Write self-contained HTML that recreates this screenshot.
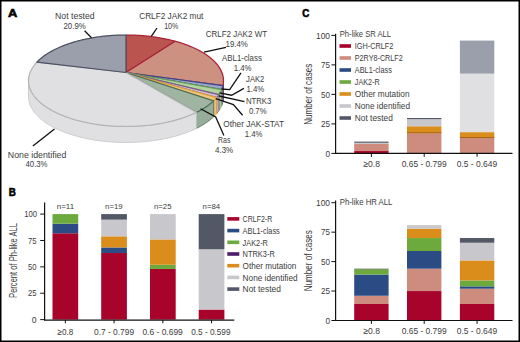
<!DOCTYPE html>
<html><head><meta charset="utf-8"><style>
html,body{margin:0;padding:0;background:#fff;}
body{width:520px;height:342px;overflow:hidden;position:relative;}
svg{position:absolute;left:0;top:0;display:block;}
text{font-family:"Liberation Sans", sans-serif;stroke:none;}
</style></head><body>
<svg width="520" height="342" viewBox="0 0 520 342">
<rect x="0" y="0" width="520" height="342" fill="#fff"/>
<polygon points="223.50,81.08 223.46,81.98 223.39,82.88 223.28,83.78 223.14,84.68 222.95,85.58 222.95,101.58 223.14,100.68 223.28,99.78 223.39,98.88 223.46,97.98 223.50,97.08" fill="#c28577" stroke="#a8243a" stroke-width="0.8" stroke-linejoin="round"/>
<polygon points="222.95,85.58 222.75,86.41 222.51,87.23 222.25,88.06 221.95,88.88 221.61,89.70 221.61,105.70 221.95,104.88 222.25,104.06 222.51,103.23 222.75,102.41 222.95,101.58" fill="#8f9bbf" stroke="#3a4488" stroke-width="0.8" stroke-linejoin="round"/>
<polygon points="221.61,89.70 221.24,90.53 220.84,91.35 220.41,92.17 219.94,92.99 219.44,93.81 218.90,94.63 218.90,110.63 219.44,109.81 219.94,108.99 220.41,108.17 220.84,107.35 221.24,106.53 221.61,105.70" fill="#a8c898" stroke="#6aa052" stroke-width="0.8" stroke-linejoin="round"/>
<polygon points="218.90,94.63 218.19,95.63 217.43,96.63 216.62,97.63 216.62,113.63 217.43,112.63 218.19,111.63 218.90,110.63" fill="#c2b0c8" stroke="#7d5a8c" stroke-width="0.8" stroke-linejoin="round"/>
<polygon points="216.62,97.63 215.92,98.43 215.19,99.23 214.42,100.03 213.62,100.81 213.62,116.81 214.42,116.03 215.19,115.23 215.92,114.43 216.62,113.63" fill="#ebc070" stroke="#e0a03a" stroke-width="0.8" stroke-linejoin="round"/>
<polygon points="213.62,100.81 212.74,101.64 211.82,102.46 210.86,103.27 209.86,104.08 208.83,104.88 207.76,105.67 206.65,106.46 205.50,107.23 204.32,108.00 203.10,108.75 201.84,109.50 200.55,110.23 199.22,110.96 197.86,111.67 196.46,112.37 196.46,128.37 197.86,127.67 199.22,126.96 200.55,126.23 201.84,125.50 203.10,124.75 204.32,124.00 205.50,123.23 206.65,122.46 207.76,121.67 208.83,120.88 209.86,120.08 210.86,119.27 211.82,118.46 212.74,117.64 213.62,116.81" fill="#96ad99" stroke="#4d6e55" stroke-width="0.8" stroke-linejoin="round"/>
<polygon points="196.46,112.37 195.09,113.03 193.69,113.67 192.27,114.30 190.81,114.92 189.33,115.53 187.81,116.13 186.27,116.71 184.69,117.28 183.10,117.83 181.47,118.37 179.82,118.89 178.14,119.40 176.44,119.90 174.71,120.38 172.96,120.84 171.19,121.29 169.39,121.71 167.58,122.13 165.74,122.52 163.88,122.90 162.01,123.26 160.12,123.60 158.21,123.93 156.28,124.23 154.34,124.52 152.39,124.79 150.42,125.04 148.44,125.27 146.45,125.48 144.45,125.67 142.44,125.84 140.42,125.99 138.39,126.12 136.36,126.24 134.32,126.33 132.28,126.40 130.23,126.45 128.19,126.48 126.14,126.50 124.09,126.49 122.04,126.46 120.00,126.41 117.95,126.34 115.92,126.25 113.88,126.14 111.85,126.01 109.83,125.86 107.82,125.69 105.82,125.50 103.83,125.30 101.85,125.07 99.88,124.82 97.92,124.56 95.98,124.27 94.05,123.97 92.14,123.65 90.24,123.31 88.37,122.95 86.51,122.57 84.67,122.18 82.85,121.77 81.05,121.34 79.28,120.90 77.53,120.44 75.80,119.96 74.09,119.47 72.41,118.96 70.75,118.44 69.12,117.90 67.52,117.35 65.94,116.79 64.40,116.21 62.88,115.61 61.39,115.01 59.93,114.39 58.50,113.76 57.10,113.11 55.73,112.46 54.39,111.79 53.08,111.12 51.81,110.43 50.57,109.73 49.36,109.02 48.18,108.31 47.04,107.58 45.93,106.85 44.85,106.11 43.81,105.36 42.81,104.60 41.83,103.84 40.89,103.07 39.99,102.29 39.12,101.51 38.29,100.72 37.49,99.93 36.72,99.13 35.99,98.33 35.29,97.52 34.63,96.71 34.01,95.90 33.41,95.08 32.86,94.27 32.33,93.45 31.84,92.62 31.39,91.80 30.97,90.97 30.58,90.15 30.23,89.32 29.91,88.49 29.62,87.67 29.37,86.84 29.15,86.01 28.96,85.19 28.81,84.36 28.68,83.54 28.59,82.72 28.53,81.90 28.50,81.08 28.50,97.08 28.53,97.90 28.59,98.72 28.68,99.54 28.81,100.36 28.96,101.19 29.15,102.01 29.37,102.84 29.62,103.67 29.91,104.49 30.23,105.32 30.58,106.15 30.97,106.97 31.39,107.80 31.84,108.62 32.33,109.45 32.86,110.27 33.41,111.08 34.01,111.90 34.63,112.71 35.29,113.52 35.99,114.33 36.72,115.13 37.49,115.93 38.29,116.72 39.12,117.51 39.99,118.29 40.89,119.07 41.83,119.84 42.81,120.60 43.81,121.36 44.85,122.11 45.93,122.85 47.04,123.58 48.18,124.31 49.36,125.02 50.57,125.73 51.81,126.43 53.08,127.12 54.39,127.79 55.73,128.46 57.10,129.11 58.50,129.76 59.93,130.39 61.39,131.01 62.88,131.61 64.40,132.21 65.94,132.79 67.52,133.35 69.12,133.90 70.75,134.44 72.41,134.96 74.09,135.47 75.80,135.96 77.53,136.44 79.28,136.90 81.05,137.34 82.85,137.77 84.67,138.18 86.51,138.57 88.37,138.95 90.24,139.31 92.14,139.65 94.05,139.97 95.98,140.27 97.92,140.56 99.88,140.82 101.85,141.07 103.83,141.30 105.82,141.50 107.82,141.69 109.83,141.86 111.85,142.01 113.88,142.14 115.92,142.25 117.95,142.34 120.00,142.41 122.04,142.46 124.09,142.49 126.14,142.50 128.19,142.48 130.23,142.45 132.28,142.40 134.32,142.33 136.36,142.24 138.39,142.12 140.42,141.99 142.44,141.84 144.45,141.67 146.45,141.48 148.44,141.27 150.42,141.04 152.39,140.79 154.34,140.52 156.28,140.23 158.21,139.93 160.12,139.60 162.01,139.26 163.88,138.90 165.74,138.52 167.58,138.13 169.39,137.71 171.19,137.29 172.96,136.84 174.71,136.38 176.44,135.90 178.14,135.40 179.82,134.89 181.47,134.37 183.10,133.83 184.69,133.28 186.27,132.71 187.81,132.13 189.33,131.53 190.81,130.92 192.27,130.30 193.69,129.67 195.09,129.03 196.46,128.37" fill="#e0e0e2" stroke="#c4c4c8" stroke-width="0.8" stroke-linejoin="round"/>
<polygon points="126.00,72.50 126.00,35.00 127.42,35.01 128.84,35.02 130.25,35.04 131.67,35.08 133.09,35.12 134.50,35.18 135.91,35.24 137.32,35.31 138.73,35.39 140.14,35.48 141.55,35.59 142.95,35.70 144.35,35.82 145.75,35.95 147.14,36.09 148.53,36.24 149.91,36.40 151.30,36.57 152.67,36.75 154.05,36.93 155.42,37.13 156.78,37.34 158.14,37.56 159.49,37.78 160.84,38.02 162.18,38.27 163.51,38.52 164.84,38.79 166.16,39.06 167.47,39.35 168.78,39.64 170.08,39.94 171.37,40.26 172.65,40.58 173.93,40.91 175.19,41.25" fill="#b9544f" stroke="#a8243a" stroke-width="1.25" stroke-linejoin="round"/>
<polygon points="126.00,72.50 175.19,41.25 176.45,41.60 177.71,41.96 178.95,42.34 180.18,42.72 181.41,43.11 182.62,43.51 183.82,43.91 185.01,44.33 186.19,44.76 187.36,45.20 188.51,45.64 189.65,46.10 190.78,46.56 191.90,47.03 193.00,47.52 194.09,48.01 195.17,48.51 196.23,49.02 197.28,49.54 198.31,50.06 199.33,50.60 200.33,51.14 201.31,51.70 202.28,52.26 203.23,52.83 204.17,53.41 205.09,53.99 205.99,54.59 206.87,55.19 207.73,55.81 208.58,56.43 209.40,57.06 210.21,57.69 210.99,58.34 211.76,58.99 212.51,59.65 213.23,60.31 213.93,60.99 214.61,61.67 215.27,62.36 215.91,63.05 216.52,63.76 217.11,64.47 217.68,65.18 218.22,65.91 218.74,66.63 219.24,67.37 219.70,68.11 220.15,68.86 220.57,69.61 220.96,70.37 221.32,71.14 221.66,71.90 221.97,72.68 222.25,73.46 222.51,74.24 222.73,75.03 222.93,75.82 223.10,76.62 223.24,77.42 223.35,78.22 223.43,79.03 223.48,79.84 223.50,80.66 223.49,81.47 223.44,82.29 223.37,83.11 223.26,83.93 223.12,84.76 222.95,85.58" fill="#cd9182" stroke="#a8243a" stroke-width="1.25" stroke-linejoin="round"/>
<polygon points="126.00,72.50 222.95,85.58 222.75,86.41 222.51,87.23 222.25,88.06 221.95,88.88 221.61,89.70" fill="#98a5c9" stroke="#3a4488" stroke-width="1.25" stroke-linejoin="round"/>
<polygon points="126.00,72.50 221.61,89.70 221.24,90.53 220.84,91.35 220.41,92.17 219.94,92.99 219.44,93.81 218.90,94.63" fill="#b2d3a2" stroke="#6aa052" stroke-width="1.25" stroke-linejoin="round"/>
<polygon points="126.00,72.50 218.90,94.63 218.19,95.63 217.43,96.63 216.62,97.63" fill="#cdbad3" stroke="#7d5a8c" stroke-width="1.25" stroke-linejoin="round"/>
<polygon points="126.00,72.50 216.62,97.63 215.92,98.43 215.19,99.23 214.42,100.03 213.62,100.81" fill="#f0c880" stroke="#e0a03a" stroke-width="1.25" stroke-linejoin="round"/>
<polygon points="126.00,72.50 213.62,100.81 212.74,101.64 211.82,102.46 210.86,103.27 209.86,104.08 208.83,104.88 207.76,105.67 206.65,106.46 205.50,107.23 204.32,108.00 203.10,108.75 201.84,109.50 200.55,110.23 199.22,110.96 197.86,111.67 196.46,112.37" fill="#9fb5a2" stroke="#4d6e55" stroke-width="1.25" stroke-linejoin="round"/>
<polygon points="126.00,72.50 196.46,112.37 195.09,113.02 193.70,113.67 192.28,114.30 190.82,114.92 189.34,115.53 187.83,116.12 186.29,116.70 184.72,117.27 183.12,117.82 181.50,118.36 179.85,118.88 178.18,119.39 176.48,119.89 174.76,120.36 173.01,120.83 171.24,121.27 169.45,121.70 167.64,122.11 165.81,122.51 163.96,122.89 162.09,123.25 160.20,123.59 158.30,123.91 156.38,124.22 154.44,124.51 152.49,124.77 150.53,125.02 148.55,125.25 146.57,125.47 144.57,125.66 142.56,125.83 140.55,125.98 138.53,126.12 136.50,126.23 134.46,126.32 132.43,126.40 130.38,126.45 128.34,126.48 126.30,126.50 124.25,126.49 122.21,126.46 120.17,126.41 118.13,126.35 116.09,126.26 114.06,126.15 112.04,126.02 110.02,125.88 108.01,125.71 106.01,125.52 104.02,125.32 102.05,125.09 100.08,124.85 98.12,124.59 96.19,124.30 94.26,124.00 92.35,123.68 90.46,123.35 88.58,122.99 86.73,122.62 84.89,122.23 83.07,121.82 81.27,121.40 79.50,120.96 77.75,120.50 76.02,120.03 74.31,119.54 72.63,119.03 70.97,118.51 69.34,117.98 67.74,117.43 66.16,116.87 64.62,116.29 63.10,115.70 61.60,115.10 60.14,114.48 58.71,113.85 57.31,113.21 55.94,112.56 54.60,111.90 53.29,111.22 52.01,110.54 50.77,109.85 49.55,109.14 48.38,108.43 47.23,107.71 46.12,106.98 45.04,106.24 43.99,105.49 42.98,104.74 42.00,103.98 41.06,103.21 40.15,102.43 39.28,101.65 38.44,100.87 37.63,100.08 36.86,99.28 36.13,98.48 35.43,97.68 34.76,96.87 34.13,96.06 33.53,95.25 32.97,94.43 32.44,93.61 31.94,92.79 31.48,91.97 31.05,91.15 30.66,90.32 30.30,89.50 29.98,88.67 29.68,87.85 29.42,87.02 29.20,86.20 29.00,85.37 28.84,84.55 28.71,83.73 28.61,82.91 28.54,82.09 28.51,81.27 28.50,80.46 28.53,79.65 28.59,78.84 28.67,78.04 28.79,77.24 28.94,76.44 29.11,75.65 29.31,74.86 29.55,74.07 29.81,73.29 30.09,72.52 30.41,71.74 30.75,70.98 31.12,70.22 31.52,69.46 31.94,68.71 32.38,67.97 32.86,67.23 33.35,66.50 33.88,65.77 34.42,65.05 34.99,64.34 35.58,63.63 36.20,62.93 36.84,62.24" fill="#e0e0e2" stroke="#b4b4b8" stroke-width="1.25" stroke-linejoin="round"/>
<polygon points="126.00,72.50 36.84,62.24 37.50,61.56 38.18,60.88 38.88,60.21 39.61,59.54 40.35,58.89 41.12,58.24 41.90,57.60 42.71,56.97 43.53,56.34 44.38,55.73 45.24,55.12 46.12,54.52 47.02,53.93 47.93,53.34 48.87,52.77 49.82,52.20 50.78,51.64 51.76,51.09 52.76,50.55 53.78,50.02 54.81,49.49 55.85,48.98 56.91,48.47 57.98,47.97 59.07,47.48 60.17,47.00 61.28,46.53 62.40,46.07 63.54,45.62 64.69,45.18 65.86,44.74 67.03,44.32 68.22,43.90 69.41,43.49 70.62,43.10 71.84,42.71 73.07,42.33 74.30,41.96 75.55,41.60 76.81,41.25 78.07,40.91 79.35,40.58 80.63,40.26 81.92,39.94 83.22,39.64 84.53,39.35 85.84,39.06 87.16,38.79 88.49,38.52 89.82,38.27 91.16,38.02 92.51,37.78 93.86,37.56 95.22,37.34 96.58,37.13 97.95,36.93 99.33,36.75 100.70,36.57 102.09,36.40 103.47,36.24 104.86,36.09 106.25,35.95 107.65,35.82 109.05,35.70 110.45,35.59 111.86,35.48 113.27,35.39 114.68,35.31 116.09,35.24 117.50,35.18 118.91,35.12 120.33,35.08 121.75,35.04 123.16,35.02 124.58,35.01 126.00,35.00" fill="#9b9eab" stroke="#4b5162" stroke-width="1.25" stroke-linejoin="round"/>
<polyline points="84.60,30.80 91.50,37.70" fill="none" stroke="#111" stroke-width="1.3"/>
<polyline points="151.30,36.30 157.00,28.00" fill="none" stroke="#111" stroke-width="1.3"/>
<polyline points="204.00,52.20 226.00,47.30" fill="none" stroke="#111" stroke-width="1.3"/>
<polyline points="241.00,72.80 229.70,89.60 221.50,89.00" fill="none" stroke="#111" stroke-width="1.3"/>
<polyline points="243.90,88.40 231.60,95.20 219.40,92.90" fill="none" stroke="#111" stroke-width="1.3"/>
<polyline points="244.50,101.60 219.00,96.00" fill="none" stroke="#111" stroke-width="1.3"/>
<polyline points="242.60,115.20 233.40,104.60 215.80,98.70" fill="none" stroke="#111" stroke-width="1.3"/>
<polyline points="223.90,135.60 215.70,116.90 200.50,108.70" fill="none" stroke="#111" stroke-width="1.3"/>
<polyline points="32.90,146.00 54.50,129.00" fill="none" stroke="#111" stroke-width="1.3"/>
<text x="74.85" y="18.60" font-size="9.90" text-anchor="middle" fill="#3c3c3c" font-weight="normal" textLength="39.50" lengthAdjust="spacingAndGlyphs">Not tested</text>
<text x="74.60" y="28.90" font-size="9.90" text-anchor="middle" fill="#3c3c3c" font-weight="normal" textLength="22.20" lengthAdjust="spacingAndGlyphs">20.9%</text>
<text x="171.25" y="19.30" font-size="9.90" text-anchor="middle" fill="#3c3c3c" font-weight="normal" textLength="64.10" lengthAdjust="spacingAndGlyphs">CRLF2 JAK2 mut</text>
<text x="171.25" y="29.30" font-size="9.90" text-anchor="middle" fill="#3c3c3c" font-weight="normal" textLength="14.10" lengthAdjust="spacingAndGlyphs">10%</text>
<text x="236.40" y="37.30" font-size="9.90" text-anchor="middle" fill="#3c3c3c" font-weight="normal" textLength="61.40" lengthAdjust="spacingAndGlyphs">CRLF2 JAK2 WT</text>
<text x="236.70" y="47.40" font-size="9.90" text-anchor="middle" fill="#3c3c3c" font-weight="normal" textLength="22.40" lengthAdjust="spacingAndGlyphs">19.4%</text>
<text x="241.95" y="61.40" font-size="9.90" text-anchor="middle" fill="#3c3c3c" font-weight="normal" textLength="39.90" lengthAdjust="spacingAndGlyphs">ABL1-class</text>
<text x="242.60" y="70.80" font-size="9.90" text-anchor="middle" fill="#3c3c3c" font-weight="normal" textLength="17.80" lengthAdjust="spacingAndGlyphs">1.4%</text>
<text x="255.20" y="81.80" font-size="9.90" text-anchor="middle" fill="#3c3c3c" font-weight="normal" textLength="18.20" lengthAdjust="spacingAndGlyphs">JAK2</text>
<text x="255.40" y="91.80" font-size="9.90" text-anchor="middle" fill="#3c3c3c" font-weight="normal" textLength="17.80" lengthAdjust="spacingAndGlyphs">1.4%</text>
<text x="258.60" y="103.80" font-size="9.90" text-anchor="middle" fill="#3c3c3c" font-weight="normal" textLength="25.40" lengthAdjust="spacingAndGlyphs">NTRK3</text>
<text x="257.75" y="114.30" font-size="9.90" text-anchor="middle" fill="#3c3c3c" font-weight="normal" textLength="17.70" lengthAdjust="spacingAndGlyphs">0.7%</text>
<text x="253.65" y="127.20" font-size="9.90" text-anchor="middle" fill="#3c3c3c" font-weight="normal" textLength="60.90" lengthAdjust="spacingAndGlyphs">Other JAK-STAT</text>
<text x="253.55" y="136.50" font-size="9.90" text-anchor="middle" fill="#3c3c3c" font-weight="normal" textLength="17.70" lengthAdjust="spacingAndGlyphs">1.4%</text>
<text x="224.25" y="143.10" font-size="9.90" text-anchor="middle" fill="#3c3c3c" font-weight="normal" textLength="12.30" lengthAdjust="spacingAndGlyphs">Ras</text>
<text x="224.10" y="152.80" font-size="9.90" text-anchor="middle" fill="#3c3c3c" font-weight="normal" textLength="18.20" lengthAdjust="spacingAndGlyphs">4.3%</text>
<text x="37.10" y="157.70" font-size="9.90" text-anchor="middle" fill="#3c3c3c" font-weight="normal" textLength="58.60" lengthAdjust="spacingAndGlyphs">None identified</text>
<text x="36.50" y="167.30" font-size="9.90" text-anchor="middle" fill="#3c3c3c" font-weight="normal" textLength="22.00" lengthAdjust="spacingAndGlyphs">40.3%</text>
<text x="12.65" y="16.60" font-size="11.40" text-anchor="middle" fill="#000" font-weight="bold" textLength="9.30" lengthAdjust="spacingAndGlyphs" style="stroke:#000;stroke-width:0.6px">A</text>
<rect x="52.50" y="233.28" width="25.70" height="86.32" fill="#a8032b"/>
<rect x="52.50" y="223.69" width="25.70" height="9.59" fill="#2b4b85"/>
<rect x="52.50" y="214.10" width="25.70" height="9.59" fill="#6daa3e"/>
<rect x="101.20" y="252.97" width="25.70" height="66.63" fill="#a8032b"/>
<rect x="101.20" y="247.42" width="25.70" height="5.55" fill="#2b4b85"/>
<rect x="101.20" y="236.31" width="25.70" height="11.11" fill="#db8d1c"/>
<rect x="101.20" y="219.65" width="25.70" height="16.66" fill="#c8c8cc"/>
<rect x="101.20" y="214.10" width="25.70" height="5.55" fill="#535866"/>
<rect x="150.00" y="268.96" width="25.70" height="50.64" fill="#a8032b"/>
<rect x="150.00" y="264.74" width="25.70" height="4.22" fill="#6daa3e"/>
<rect x="150.00" y="239.42" width="25.70" height="25.32" fill="#db8d1c"/>
<rect x="150.00" y="214.10" width="25.70" height="25.32" fill="#c8c8cc"/>
<rect x="198.70" y="309.55" width="25.70" height="10.05" fill="#a8032b"/>
<rect x="198.70" y="249.27" width="25.70" height="60.29" fill="#c8c8cc"/>
<rect x="198.70" y="214.10" width="25.70" height="35.17" fill="#535866"/>
<line x1="44.6" y1="202.5" x2="44.6" y2="320.3" stroke="#111" stroke-width="1.2"/>
<line x1="44.0" y1="320.2" x2="234.3" y2="320.2" stroke="#111" stroke-width="1.2"/>
<line x1="40.2" y1="319.60" x2="44.6" y2="319.60" stroke="#111" stroke-width="1"/>
<line x1="40.2" y1="293.23" x2="44.6" y2="293.23" stroke="#111" stroke-width="1"/>
<line x1="40.2" y1="266.85" x2="44.6" y2="266.85" stroke="#111" stroke-width="1"/>
<line x1="40.2" y1="240.48" x2="44.6" y2="240.48" stroke="#111" stroke-width="1"/>
<line x1="40.2" y1="214.10" x2="44.6" y2="214.10" stroke="#111" stroke-width="1"/>
<line x1="65.35" y1="319.9" x2="65.35" y2="323.3" stroke="#111" stroke-width="1"/>
<line x1="114.05" y1="319.9" x2="114.05" y2="323.3" stroke="#111" stroke-width="1"/>
<line x1="162.85" y1="319.9" x2="162.85" y2="323.3" stroke="#111" stroke-width="1"/>
<line x1="211.55" y1="319.9" x2="211.55" y2="323.3" stroke="#111" stroke-width="1"/>
<text x="30.60" y="217.00" font-size="9.00" text-anchor="middle" fill="#3c3c3c" font-weight="normal" textLength="12.80" lengthAdjust="spacingAndGlyphs">100</text>
<text x="32.35" y="243.60" font-size="9.00" text-anchor="middle" fill="#3c3c3c" font-weight="normal" textLength="8.50" lengthAdjust="spacingAndGlyphs">75</text>
<text x="32.35" y="270.10" font-size="9.00" text-anchor="middle" fill="#3c3c3c" font-weight="normal" textLength="8.50" lengthAdjust="spacingAndGlyphs">50</text>
<text x="32.35" y="296.40" font-size="9.00" text-anchor="middle" fill="#3c3c3c" font-weight="normal" textLength="8.50" lengthAdjust="spacingAndGlyphs">25</text>
<text x="34.20" y="322.80" font-size="9.00" text-anchor="middle" fill="#3c3c3c" font-weight="normal" textLength="4.80" lengthAdjust="spacingAndGlyphs">0</text>
<text x="65.40" y="334.80" font-size="9.00" text-anchor="middle" fill="#3c3c3c" font-weight="normal" textLength="15.80" lengthAdjust="spacingAndGlyphs">&#8805;0.8</text>
<text x="114.05" y="334.80" font-size="9.00" text-anchor="middle" fill="#3c3c3c" font-weight="normal" textLength="40.10" lengthAdjust="spacingAndGlyphs">0.7 - 0.799</text>
<text x="162.60" y="334.80" font-size="9.00" text-anchor="middle" fill="#3c3c3c" font-weight="normal" textLength="40.40" lengthAdjust="spacingAndGlyphs">0.6 - 0.699</text>
<text x="210.85" y="334.80" font-size="9.00" text-anchor="middle" fill="#3c3c3c" font-weight="normal" textLength="39.30" lengthAdjust="spacingAndGlyphs">0.5 - 0.599</text>
<text x="65.40" y="209.40" font-size="7.40" text-anchor="middle" fill="#3c3c3c" font-weight="normal" textLength="17.40" lengthAdjust="spacingAndGlyphs">n=11</text>
<text x="113.85" y="209.40" font-size="7.40" text-anchor="middle" fill="#3c3c3c" font-weight="normal" textLength="17.50" lengthAdjust="spacingAndGlyphs">n=19</text>
<text x="162.70" y="209.40" font-size="7.40" text-anchor="middle" fill="#3c3c3c" font-weight="normal" textLength="17.60" lengthAdjust="spacingAndGlyphs">n=25</text>
<text x="211.40" y="209.40" font-size="7.40" text-anchor="middle" fill="#3c3c3c" font-weight="normal" textLength="17.60" lengthAdjust="spacingAndGlyphs">n=84</text>
<g transform="translate(17.4,260.5) rotate(-90)"><text x="0.00" y="0.00" font-size="10.40" text-anchor="middle" fill="#3c3c3c" font-weight="normal" textLength="74.80" lengthAdjust="spacingAndGlyphs">Percent of Ph-like ALL</text></g>
<rect x="227.3" y="217.10" width="12" height="3.6" fill="#a8032b"/>
<text x="242.60" y="222.10" font-size="9.00" text-anchor="start" fill="#3c3c3c" font-weight="normal" textLength="29.70" lengthAdjust="spacingAndGlyphs">CRLF2-R</text>
<rect x="227.3" y="228.80" width="12" height="3.6" fill="#2b4b85"/>
<text x="242.60" y="233.80" font-size="9.00" text-anchor="start" fill="#3c3c3c" font-weight="normal" textLength="37.20" lengthAdjust="spacingAndGlyphs">ABL1-class</text>
<rect x="227.3" y="240.50" width="12" height="3.6" fill="#6daa3e"/>
<text x="242.60" y="245.50" font-size="9.00" text-anchor="start" fill="#3c3c3c" font-weight="normal" textLength="25.30" lengthAdjust="spacingAndGlyphs">JAK2-R</text>
<rect x="227.3" y="252.20" width="12" height="3.6" fill="#4b1c6a"/>
<text x="242.60" y="257.20" font-size="9.00" text-anchor="start" fill="#3c3c3c" font-weight="normal" textLength="32.20" lengthAdjust="spacingAndGlyphs">NTRK3-R</text>
<rect x="227.3" y="263.90" width="12" height="3.6" fill="#db8d1c"/>
<text x="242.60" y="268.90" font-size="9.00" text-anchor="start" fill="#3c3c3c" font-weight="normal" textLength="53.80" lengthAdjust="spacingAndGlyphs">Other mutation</text>
<rect x="227.3" y="275.60" width="12" height="3.6" fill="#c8c8cc"/>
<text x="242.60" y="280.60" font-size="9.00" text-anchor="start" fill="#3c3c3c" font-weight="normal" textLength="55.00" lengthAdjust="spacingAndGlyphs">None identified</text>
<rect x="227.3" y="287.30" width="12" height="3.6" fill="#535866"/>
<text x="242.60" y="292.30" font-size="9.00" text-anchor="start" fill="#3c3c3c" font-weight="normal" textLength="38.20" lengthAdjust="spacingAndGlyphs">Not tested</text>
<text x="12.25" y="196.20" font-size="11.60" text-anchor="middle" fill="#000" font-weight="bold" textLength="7.10" lengthAdjust="spacingAndGlyphs" style="stroke:#000;stroke-width:0.6px">B</text>
<rect x="354.20" y="151.04" width="34.40" height="2.36" fill="#a8032b"/>
<rect x="354.20" y="143.96" width="34.40" height="7.08" fill="#cd8c7d"/>
<rect x="354.20" y="142.78" width="34.40" height="1.18" fill="#c8c8cc"/>
<rect x="354.20" y="141.60" width="34.40" height="1.18" fill="#535866"/>
<rect x="407.00" y="133.34" width="34.40" height="20.06" fill="#cd8c7d"/>
<rect x="407.00" y="126.26" width="34.40" height="7.08" fill="#db8d1c"/>
<rect x="407.00" y="132.24" width="34.40" height="1.1" fill="#a8641c"/>
<rect x="407.00" y="119.18" width="34.40" height="7.08" fill="#c8c8cc"/>
<rect x="407.00" y="118.00" width="34.40" height="1.18" fill="#535866"/>
<rect x="459.90" y="138.06" width="34.40" height="15.34" fill="#cd8c7d"/>
<rect x="459.90" y="132.16" width="34.40" height="5.90" fill="#db8d1c"/>
<rect x="459.90" y="136.96" width="34.40" height="1.1" fill="#a8641c"/>
<rect x="459.90" y="73.63" width="34.40" height="58.53" fill="#e0e0e2"/>
<rect x="459.90" y="40.59" width="34.40" height="33.04" fill="#9b9eab"/>
<line x1="335.6" y1="33.70" x2="335.6" y2="154.00" stroke="#111" stroke-width="1.2"/>
<line x1="335.0" y1="153.40" x2="512.5" y2="153.40" stroke="#111" stroke-width="1.2"/>
<line x1="331.4" y1="153.40" x2="335.6" y2="153.40" stroke="#111" stroke-width="1"/>
<text x="327.70" y="156.60" font-size="9.00" text-anchor="middle" fill="#3c3c3c" font-weight="normal" textLength="4.60" lengthAdjust="spacingAndGlyphs">0</text>
<line x1="331.4" y1="123.90" x2="335.6" y2="123.90" stroke="#111" stroke-width="1"/>
<text x="325.50" y="127.10" font-size="9.00" text-anchor="middle" fill="#3c3c3c" font-weight="normal" textLength="9.00" lengthAdjust="spacingAndGlyphs">25</text>
<line x1="331.4" y1="94.40" x2="335.6" y2="94.40" stroke="#111" stroke-width="1"/>
<text x="325.50" y="97.60" font-size="9.00" text-anchor="middle" fill="#3c3c3c" font-weight="normal" textLength="9.00" lengthAdjust="spacingAndGlyphs">50</text>
<line x1="331.4" y1="64.90" x2="335.6" y2="64.90" stroke="#111" stroke-width="1"/>
<text x="325.50" y="68.10" font-size="9.00" text-anchor="middle" fill="#3c3c3c" font-weight="normal" textLength="9.00" lengthAdjust="spacingAndGlyphs">75</text>
<line x1="331.4" y1="35.40" x2="335.6" y2="35.40" stroke="#111" stroke-width="1"/>
<text x="323.00" y="38.60" font-size="9.00" text-anchor="middle" fill="#3c3c3c" font-weight="normal" textLength="14.00" lengthAdjust="spacingAndGlyphs">100</text>
<line x1="371.40" y1="153.40" x2="371.40" y2="156.80" stroke="#111" stroke-width="1"/>
<line x1="424.20" y1="153.40" x2="424.20" y2="156.80" stroke="#111" stroke-width="1"/>
<line x1="477.10" y1="153.40" x2="477.10" y2="156.80" stroke="#111" stroke-width="1"/>
<text x="371.70" y="167.30" font-size="9.00" text-anchor="middle" fill="#3c3c3c" font-weight="normal" textLength="16.60" lengthAdjust="spacingAndGlyphs">&#8805;0.8</text>
<text x="424.15" y="167.30" font-size="9.00" text-anchor="middle" fill="#3c3c3c" font-weight="normal" textLength="44.90" lengthAdjust="spacingAndGlyphs">0.65 - 0.799</text>
<text x="476.90" y="167.30" font-size="9.00" text-anchor="middle" fill="#3c3c3c" font-weight="normal" textLength="40.40" lengthAdjust="spacingAndGlyphs">0.5 - 0.649</text>
<text x="339.80" y="37.40" font-size="9.20" text-anchor="start" fill="#3c3c3c" font-weight="normal" textLength="51.20" lengthAdjust="spacingAndGlyphs">Ph-like SR ALL</text>
<g transform="translate(312.2,94.30) rotate(-90)"><text x="0.00" y="0.00" font-size="10.40" text-anchor="middle" fill="#3c3c3c" font-weight="normal" textLength="61.00" lengthAdjust="spacingAndGlyphs">Number of cases</text></g>
<rect x="339.5" y="44.20" width="11.5" height="3.6" fill="#a8032b"/>
<text x="354.80" y="49.20" font-size="9.00" text-anchor="start" fill="#3c3c3c" font-weight="normal" textLength="38.60" lengthAdjust="spacingAndGlyphs">IGH-CRLF2</text>
<rect x="339.5" y="56.20" width="11.5" height="3.6" fill="#cd8c7d"/>
<text x="354.80" y="61.20" font-size="9.00" text-anchor="start" fill="#3c3c3c" font-weight="normal" textLength="47.90" lengthAdjust="spacingAndGlyphs">P2RY8-CRLF2</text>
<rect x="339.5" y="68.20" width="11.5" height="3.6" fill="#2b4b85"/>
<text x="354.80" y="73.20" font-size="9.00" text-anchor="start" fill="#3c3c3c" font-weight="normal" textLength="37.10" lengthAdjust="spacingAndGlyphs">ABL1-class</text>
<rect x="339.5" y="80.20" width="11.5" height="3.6" fill="#6daa3e"/>
<text x="354.80" y="85.20" font-size="9.00" text-anchor="start" fill="#3c3c3c" font-weight="normal" textLength="24.80" lengthAdjust="spacingAndGlyphs">JAK2-R</text>
<rect x="339.5" y="92.20" width="11.5" height="3.6" fill="#db8d1c"/>
<text x="354.80" y="97.20" font-size="9.00" text-anchor="start" fill="#3c3c3c" font-weight="normal" textLength="54.70" lengthAdjust="spacingAndGlyphs">Other mutation</text>
<rect x="339.5" y="104.20" width="11.5" height="3.6" fill="#c8c8cc"/>
<text x="354.80" y="109.20" font-size="9.00" text-anchor="start" fill="#3c3c3c" font-weight="normal" textLength="55.20" lengthAdjust="spacingAndGlyphs">None identified</text>
<rect x="339.5" y="116.20" width="11.5" height="3.6" fill="#535866"/>
<text x="354.80" y="121.20" font-size="9.00" text-anchor="start" fill="#3c3c3c" font-weight="normal" textLength="38.00" lengthAdjust="spacingAndGlyphs">Not tested</text>
<rect x="354.20" y="304.01" width="34.40" height="16.49" fill="#a8032b"/>
<rect x="354.20" y="295.76" width="34.40" height="8.25" fill="#cd8c7d"/>
<rect x="354.20" y="274.56" width="34.40" height="21.20" fill="#2b4b85"/>
<rect x="354.20" y="269.61" width="34.40" height="4.95" fill="#6daa3e"/>
<rect x="354.20" y="268.67" width="34.40" height="0.94" fill="#4a6a34"/>
<rect x="407.00" y="291.05" width="34.40" height="29.45" fill="#a8032b"/>
<rect x="407.00" y="268.67" width="34.40" height="22.38" fill="#cd8c7d"/>
<rect x="407.00" y="251.00" width="34.40" height="17.67" fill="#2b4b85"/>
<rect x="407.00" y="238.04" width="34.40" height="12.96" fill="#6daa3e"/>
<rect x="407.00" y="228.62" width="34.40" height="9.42" fill="#db8d1c"/>
<rect x="407.00" y="225.08" width="34.40" height="3.53" fill="#c8c8cc"/>
<rect x="459.90" y="304.01" width="34.40" height="16.49" fill="#a8032b"/>
<rect x="459.90" y="288.69" width="34.40" height="15.31" fill="#cd8c7d"/>
<rect x="459.90" y="286.34" width="34.40" height="2.36" fill="#2b4b85"/>
<rect x="459.90" y="280.45" width="34.40" height="5.89" fill="#6daa3e"/>
<rect x="459.90" y="260.42" width="34.40" height="20.03" fill="#db8d1c"/>
<rect x="459.90" y="242.75" width="34.40" height="17.67" fill="#c8c8cc"/>
<rect x="459.90" y="238.04" width="34.40" height="4.71" fill="#535866"/>
<line x1="335.6" y1="200.50" x2="335.6" y2="321.10" stroke="#111" stroke-width="1.2"/>
<line x1="335.0" y1="320.50" x2="512.5" y2="320.50" stroke="#111" stroke-width="1.2"/>
<line x1="331.4" y1="320.50" x2="335.6" y2="320.50" stroke="#111" stroke-width="1"/>
<text x="327.70" y="323.70" font-size="9.00" text-anchor="middle" fill="#3c3c3c" font-weight="normal" textLength="4.60" lengthAdjust="spacingAndGlyphs">0</text>
<line x1="331.4" y1="291.05" x2="335.6" y2="291.05" stroke="#111" stroke-width="1"/>
<text x="325.50" y="294.25" font-size="9.00" text-anchor="middle" fill="#3c3c3c" font-weight="normal" textLength="9.00" lengthAdjust="spacingAndGlyphs">25</text>
<line x1="331.4" y1="261.60" x2="335.6" y2="261.60" stroke="#111" stroke-width="1"/>
<text x="325.50" y="264.80" font-size="9.00" text-anchor="middle" fill="#3c3c3c" font-weight="normal" textLength="9.00" lengthAdjust="spacingAndGlyphs">50</text>
<line x1="331.4" y1="232.15" x2="335.6" y2="232.15" stroke="#111" stroke-width="1"/>
<text x="325.50" y="235.35" font-size="9.00" text-anchor="middle" fill="#3c3c3c" font-weight="normal" textLength="9.00" lengthAdjust="spacingAndGlyphs">75</text>
<line x1="331.4" y1="202.70" x2="335.6" y2="202.70" stroke="#111" stroke-width="1"/>
<text x="323.00" y="205.90" font-size="9.00" text-anchor="middle" fill="#3c3c3c" font-weight="normal" textLength="14.00" lengthAdjust="spacingAndGlyphs">100</text>
<line x1="371.40" y1="320.50" x2="371.40" y2="323.90" stroke="#111" stroke-width="1"/>
<line x1="424.20" y1="320.50" x2="424.20" y2="323.90" stroke="#111" stroke-width="1"/>
<line x1="477.10" y1="320.50" x2="477.10" y2="323.90" stroke="#111" stroke-width="1"/>
<text x="371.70" y="334.40" font-size="9.00" text-anchor="middle" fill="#3c3c3c" font-weight="normal" textLength="16.60" lengthAdjust="spacingAndGlyphs">&#8805;0.8</text>
<text x="424.15" y="334.40" font-size="9.00" text-anchor="middle" fill="#3c3c3c" font-weight="normal" textLength="44.90" lengthAdjust="spacingAndGlyphs">0.65 - 0.799</text>
<text x="476.90" y="334.40" font-size="9.00" text-anchor="middle" fill="#3c3c3c" font-weight="normal" textLength="40.40" lengthAdjust="spacingAndGlyphs">0.5 - 0.649</text>
<text x="339.80" y="205.40" font-size="9.20" text-anchor="start" fill="#3c3c3c" font-weight="normal" textLength="52.60" lengthAdjust="spacingAndGlyphs">Ph-like HR ALL</text>
<g transform="translate(312.2,260.70) rotate(-90)"><text x="0.00" y="0.00" font-size="10.40" text-anchor="middle" fill="#3c3c3c" font-weight="normal" textLength="61.00" lengthAdjust="spacingAndGlyphs">Number of cases</text></g>
<text x="305.80" y="16.50" font-size="11.40" text-anchor="middle" fill="#000" font-weight="bold" textLength="7.00" lengthAdjust="spacingAndGlyphs" style="stroke:#000;stroke-width:0.6px">C</text>
<rect x="0.75" y="0.75" width="518.5" height="340.5" fill="none" stroke="#000" stroke-width="1.5"/>
</svg>
</body></html>
